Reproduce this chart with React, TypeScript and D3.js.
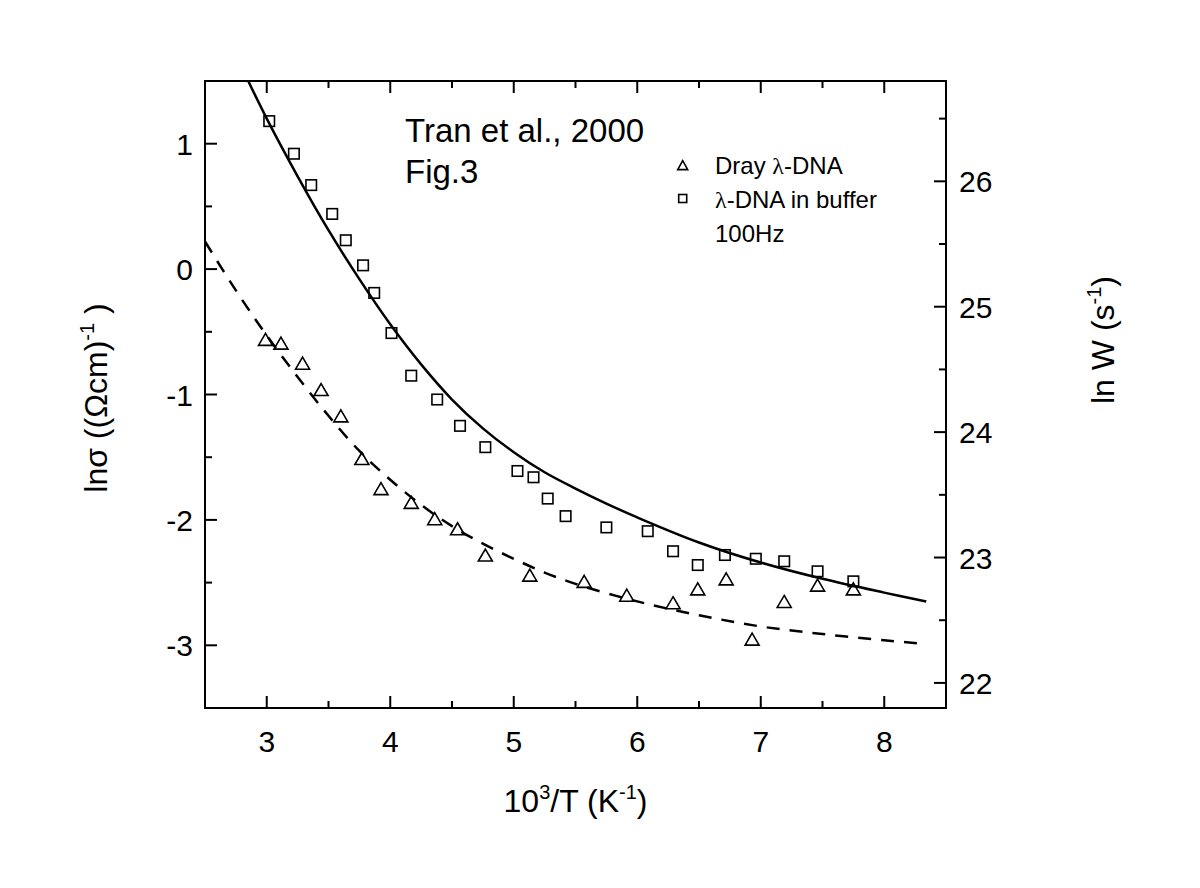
import React from 'react';
import * as d3 from 'd3';

// axis ticks
const xTicks = [3, 4, 5, 6, 7, 8];
const leftTicks = [-3, -2, -1, 0, 1];
const rightTicks = [22, 23, 24, 25, 26];

// Dray λ-DNA (triangles)
const dryX = [2.99, 3.115, 3.29, 3.44, 3.6, 3.77, 3.925, 4.17, 4.36, 4.545, 4.77, 5.13, 5.57, 5.915, 6.29, 6.49, 6.72, 6.93, 7.19, 7.46, 7.75];
const dryY = [-0.57, -0.6, -0.76, -0.97, -1.18, -1.52, -1.76, -1.87, -2.0, -2.08, -2.29, -2.45, -2.5, -2.61, -2.67, -2.56, -2.48, -2.96, -2.66, -2.53, -2.56];

// λ-DNA in buffer, 100Hz (squares)
const bufX = [3.02, 3.22, 3.36, 3.53, 3.64, 3.78, 3.87, 4.01, 4.17, 4.38, 4.565, 4.77, 5.03, 5.16, 5.275, 5.42, 5.75, 6.085, 6.29, 6.49, 6.71, 6.96, 7.19, 7.46, 7.75];
const bufY = [1.18, 0.92, 0.67, 0.44, 0.23, 0.03, -0.19, -0.51, -0.85, -1.04, -1.25, -1.42, -1.61, -1.66, -1.83, -1.97, -2.06, -2.09, -2.25, -2.36, -2.28, -2.31, -2.33, -2.41, -2.49];

// fitted curves
const solidX = [2.85, 3.0, 3.25, 3.5, 3.75, 4.0, 4.25, 4.5, 4.75, 5.0, 5.25, 5.5, 5.75, 6.0, 6.5, 7.0, 7.5, 8.0, 8.34];
const solidY = [1.5, 1.2, 0.74, 0.31, -0.08, -0.44, -0.76, -1.04, -1.27, -1.46, -1.62, -1.75, -1.87, -1.98, -2.18, -2.34, -2.47, -2.58, -2.65];
const dashX = [2.5, 2.75, 3.0, 3.25, 3.5, 3.75, 4.0, 4.25, 4.5, 4.75, 5.0, 5.25, 5.5, 6.0, 6.5, 7.0, 7.5, 8.0, 8.34];
const dashY = [0.22, -0.17, -0.53, -0.86, -1.17, -1.45, -1.68, -1.88, -2.05, -2.19, -2.31, -2.42, -2.51, -2.65, -2.76, -2.85, -2.91, -2.96, -2.99];

const FONT = '"Liberation Sans", Arial, sans-serif';
const SERIF = '"Liberation Serif", "DejaVu Serif", serif';

const Triangle = ({ cx, cy, w, h }: { cx: number; cy: number; w: number; h: number }) => (
  <path
    d={`M${cx},${cy - h * 0.6} L${cx + w / 2},${cy + h * 0.4} L${cx - w / 2},${cy + h * 0.4} Z`}
    fill="none"
    stroke="#000"
    strokeWidth={1.6}
  />
);

const Square = ({ cx, cy, s }: { cx: number; cy: number; s: number }) => (
  <rect x={cx - s / 2} y={cy - s / 2} width={s} height={s} fill="none" stroke="#000" strokeWidth={1.6} />
);

export default function App() {
  const left = 205, right = 946, top = 81, bottom = 708;
  const x = d3.scaleLinear().domain([2.5, 8.5]).range([left, right]);
  const y = d3.scaleLinear().domain([-3.5, 1.5]).range([bottom, top]);
  const yR = d3.scaleLinear().domain([21.8, 26.8]).range([bottom, top]);

  // smooth fit lines through the points
  const solidPath = d3
    .line<number>()
    .x((d, i) => x(solidX[i]))
    .y(d => y(d))
    .curve(d3.curveCatmullRom.alpha(0.5))(solidY);
  const dashPath = d3
    .line<number>()
    .x((d, i) => x(dashX[i]))
    .y(d => y(d))
    .curve(d3.curveCatmullRom.alpha(0.5))(dashY);

  const xMinor = x.ticks(12).filter(v => !Number.isInteger(v) && v > 2.5 && v < 8.5);
  const yMinor = y.ticks(10).filter(v => !Number.isInteger(v) && v > -3.5 && v < 1.5);
  const rMinor = d3.range(22.5, 27, 1);

  const major = 12, minor = 7;

  return (
    <svg width={1200} height={888} style={{ position: 'absolute', left: 0, top: 0, background: '#fff' }} fontFamily={FONT}>
      <defs>
        <clipPath id="plot">
          <rect x={left} y={top} width={right - left} height={bottom - top} />
        </clipPath>
      </defs>
      <rect width={1200} height={888} fill="#fff" />

      {/* curves */}
      <g clipPath="url(#plot)">
        <path d={solidPath || ''} fill="none" stroke="#000" strokeWidth={2.5} />
        <path d={dashPath || ''} fill="none" stroke="#000" strokeWidth={2.5} strokeDasharray="13 10" />
      </g>

      {/* markers */}
      {bufY.map((v, i) => (
        <Square key={'s' + i} cx={x(bufX[i])} cy={y(v)} s={10.5} />
      ))}
      {dryY.map((v, i) => (
        <Triangle key={'t' + i} cx={x(dryX[i])} cy={y(v)} w={14} h={12} />
      ))}

      {/* frame */}
      <rect x={left} y={top} width={right - left} height={bottom - top} fill="none" stroke="#000" strokeWidth={2} />

      {/* x ticks bottom/top */}
      {xTicks.map(t => (
        <g key={'xt' + t}>
          <line x1={x(t)} x2={x(t)} y1={bottom} y2={bottom - major} stroke="#000" strokeWidth={2} />
          <line x1={x(t)} x2={x(t)} y1={top} y2={top + major} stroke="#000" strokeWidth={2} />
          <text x={x(t)} y={752} fontSize={30} textAnchor="middle">{t}</text>
        </g>
      ))}
      {xMinor.map(t => (
        <g key={'xm' + t}>
          <line x1={x(t)} x2={x(t)} y1={bottom} y2={bottom - minor} stroke="#000" strokeWidth={2} />
          <line x1={x(t)} x2={x(t)} y1={top} y2={top + minor} stroke="#000" strokeWidth={2} />
        </g>
      ))}

      {/* left ticks */}
      {leftTicks.map(t => (
        <g key={'yl' + t}>
          <line x1={left} x2={left + major} y1={y(t)} y2={y(t)} stroke="#000" strokeWidth={2} />
          <text x={193} y={y(t) + 11} fontSize={30} textAnchor="end">{t}</text>
        </g>
      ))}
      {yMinor.map(t => (
        <line key={'ylm' + t} x1={left} x2={left + minor} y1={y(t)} y2={y(t)} stroke="#000" strokeWidth={2} />
      ))}

      {/* right ticks */}
      {rightTicks.map(t => (
        <g key={'yr' + t}>
          <line x1={right} x2={right - major} y1={yR(t)} y2={yR(t)} stroke="#000" strokeWidth={2} />
          <text x={959} y={yR(t) + 11} fontSize={30} textAnchor="start">{t}</text>
        </g>
      ))}
      {rMinor.map(t => (
        <line key={'yrm' + t} x1={right} x2={right - minor} y1={yR(t)} y2={yR(t)} stroke="#000" strokeWidth={2} />
      ))}

      {/* axis titles */}
      <text x={(left + right) / 2} y={812} fontSize={32} textAnchor="middle">
        10<tspan dy={-13} fontSize={20}>3</tspan>
        <tspan dy={13}>/T (K</tspan>
        <tspan dy={-13} fontSize={20}>-1</tspan>
        <tspan dy={13}>)</tspan>
      </text>
      <text transform="translate(107,398) rotate(-90)" fontSize={32} textAnchor="middle">
        lnσ ((Ωcm)<tspan dy={-13} fontSize={20}>-1</tspan>
        <tspan dy={13}> )</tspan>
      </text>
      <text transform="translate(1114,340) rotate(-90)" fontSize={32} textAnchor="middle">
        ln W (s<tspan dy={-13} fontSize={20}>-1</tspan>
        <tspan dy={13}>)</tspan>
      </text>

      {/* annotation */}
      <text x={405} y={142} fontSize={33}>Tran et al., 2000</text>
      <text x={405} y={183} fontSize={33}>Fig.3</text>

      {/* legend */}
      <Triangle cx={682.7} cy={166} w={10} h={9} />
      <text x={715} y={174} fontSize={24}>
        Dray <tspan fontFamily={SERIF}>λ</tspan>-DNA
      </text>
      <Square cx={682.7} cy={198.5} s={8} />
      <text x={715} y={208} fontSize={24}>
        <tspan fontFamily={SERIF}>λ</tspan>-DNA in buffer
      </text>
      <text x={715} y={242} fontSize={24}>100Hz</text>
    </svg>
  );
}
